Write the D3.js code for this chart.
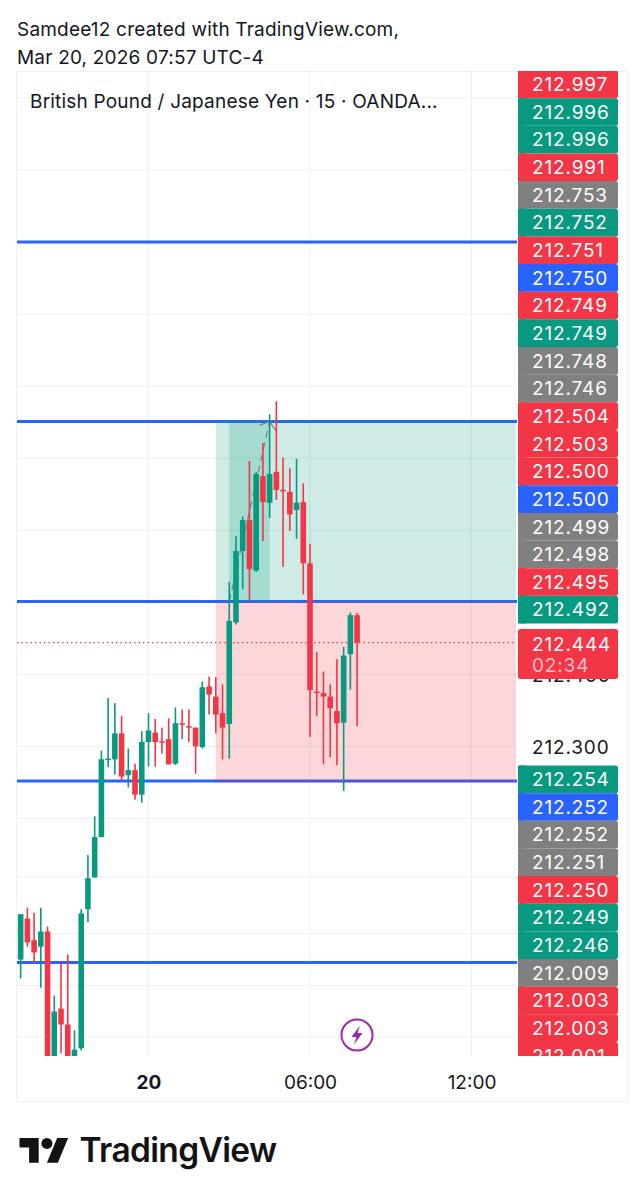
<!DOCTYPE html>
<html>
<head>
<meta charset="utf-8">
<script src="https://cdn.jsdelivr.net/npm/d3@7"></script>
<style>
  html, body { margin: 0; padding: 0; background: #fff; }
  svg { display: block; }
  text { font-family: Inter, "Noto Sans", sans-serif; }
</style>
</head>
<body>
<div id="chart"></div>
<script>
// 15 min candles, first one is 19 bars before the "20" tick
const opens  = [212.004,212.061,212.031,212.022,212.043,211.850,211.936,211.914,211.864,211.881,212.074,212.118,212.174,212.282,212.282,212.318,212.260,212.267,212.233,212.306,212.319,212.307,212.310,212.276,212.332,212.328,212.326,212.299,212.383,212.369,212.346,212.331,212.472,212.571,212.614,212.544,212.675,212.638,212.681,212.656,212.653,212.628,212.639,212.554,212.376,212.374,212.369,212.349,212.333,212.428,212.482];
const highs  = [212.067,212.076,212.069,212.076,212.050,211.954,212.000,212.011,211.906,212.074,212.149,212.203,212.294,212.367,212.360,212.342,212.297,212.276,212.321,212.346,212.338,212.326,212.339,212.354,212.351,212.351,212.326,212.390,212.397,212.396,212.386,212.528,212.592,212.619,212.696,212.681,212.721,212.761,212.779,212.701,212.686,212.699,212.665,212.581,212.431,212.404,212.386,212.421,212.438,212.486,212.485];
const lows   = [211.978,212.022,212.000,211.965,211.836,211.843,211.874,211.857,211.861,211.878,212.056,212.118,212.174,212.271,212.261,212.253,212.243,212.226,212.222,212.272,212.272,212.290,212.275,212.274,212.310,212.306,212.262,212.297,212.344,212.318,212.282,212.283,212.469,212.518,212.503,212.542,212.585,212.617,212.642,212.549,212.599,212.588,212.511,212.313,212.342,212.275,212.285,212.274,212.238,212.379,212.328];
const closes = [212.067,212.028,212.014,212.043,211.843,211.932,211.914,211.861,211.879,212.068,212.117,212.174,212.282,212.283,212.318,212.258,212.267,212.233,212.306,212.322,212.306,212.306,212.275,212.332,212.331,212.326,212.300,212.382,212.372,212.344,212.326,212.474,212.571,212.614,212.546,212.678,212.639,212.678,212.656,212.654,212.622,212.638,212.554,212.378,212.375,212.369,212.353,212.332,212.426,212.482,212.444];

// level lines
const levels = [213, 212.751, 212.501, 212.252, 212];
const gridPrices = [213.2,213.1,213,212.9,212.8,212.7,212.6,212.5,212.4,212.3,212.2,212.119,212.04,211.968,211.897];
const priceTicks = [212.4, 212.3];
const timeTicks = [0, 6, 12];
const timeLabels = ["20", "06:00", "12:00"];

const upperLabels = ["212.997","212.996","212.996","212.991","212.753","212.752","212.751","212.750","212.749","212.749","212.748","212.746","212.504","212.503","212.500","212.500","212.499","212.498","212.495","212.492"];
const upperKinds  = ["r","g","g","r","n","g","r","b","r","g","n","n","r","r","r","b","n","n","r","g"];
const lowerLabels = ["212.254","212.252","212.252","212.251","212.250","212.249","212.246","212.009","212.003","212.003","212.001"];
const lowerKinds  = ["g","b","n","n","r","g","g","n","r","r","r"];
const lastPrice = 212.444;
const countdown = "02:34";

const width = 643, height = 1199;
const GREEN = "#089981", RED = "#f23645", BLUE = "#2962ff", GRAY = "#808080";
const kindColor = { r: RED, g: GREEN, b: BLUE, n: GRAY };

const pane = { left: 17, right: 517, top: 71, bottom: 1056 };

const x = d3.scaleLinear().domain([0, 6]).range([148.5, 310]);
const y = d3.scaleLinear().domain([212, 213]).range([962.5, 242]);
const barHour = i => (i - 19) * 0.25;

const svg = d3.select("#chart").append("svg").attr("width", width).attr("height", height);

svg.append("defs").append("clipPath").attr("id", "paneClip").append("rect")
  .attr("x", pane.left).attr("y", pane.top)
  .attr("width", pane.right - pane.left).attr("height", pane.bottom - pane.top);
svg.select("defs").append("clipPath").attr("id", "labelClip").append("rect")
  .attr("x", pane.right).attr("y", pane.top)
  .attr("width", 120).attr("height", pane.bottom - pane.top);

// header
svg.append("text").attr("x", 17).attr("y", 35.5).attr("font-size", 19).attr("letter-spacing", 0.2).attr("fill", "#131722")
  .text("Samdee12 created with TradingView.com,");
svg.append("text").attr("x", 17).attr("y", 63.5).attr("font-size", 19).attr("letter-spacing", 0.2).attr("fill", "#131722")
  .text("Mar 20, 2026 07:57 UTC-4");

// frame
svg.append("rect").attr("x", 16.5).attr("y", 71.5).attr("width", 611).attr("height", 1030)
  .attr("fill", "none").attr("stroke", "#f0f0f0");

const plot = svg.append("g").attr("clip-path", "url(#paneClip)");

// grid
plot.selectAll(".hgrid").data(gridPrices).join("line")
  .attr("x1", pane.left).attr("x2", pane.right)
  .attr("y1", d => y(d)).attr("y2", d => y(d))
  .attr("stroke", "#eeeff1").attr("stroke-width", 1);
plot.selectAll(".vgrid").data(timeTicks).join("line")
  .attr("x1", d => x(d)).attr("x2", d => x(d))
  .attr("y1", pane.top).attr("y2", pane.bottom)
  .attr("stroke", "#eeeff1").attr("stroke-width", 1);

// horizontal levels
plot.selectAll(".level").data(levels).join("line")
  .attr("x1", pane.left).attr("x2", pane.right)
  .attr("y1", d => y(d)).attr("y2", d => y(d))
  .attr("stroke", BLUE).attr("stroke-width", 3);

// long position box, it covers the level lines at its edges
const boxLeft = x(barHour(29));
plot.append("rect").attr("x", boxLeft).attr("y", y(levels[1]) - 1.5)
  .attr("width", pane.right - 1 - boxLeft).attr("height", y(levels[2]) - y(levels[1]) + 1.5)
  .attr("fill", GREEN).attr("fill-opacity", 0.2);
plot.append("rect").attr("x", boxLeft).attr("y", y(levels[2]))
  .attr("width", pane.right - 1 - boxLeft).attr("height", y(levels[3]) - y(levels[2]) + 1.5)
  .attr("fill", RED).attr("fill-opacity", 0.2);
plot.append("rect").attr("x", x(barHour(31))).attr("y", y(levels[1]))
  .attr("width", x(barHour(37)) - x(barHour(31))).attr("height", y(levels[2]) - y(levels[1]))
  .attr("fill", GREEN).attr("fill-opacity", 0.2);

// dashed arrow of the position
const arrowTip = [x(barHour(37)), y(levels[1])];
plot.append("line").attr("x1", x(barHour(31))).attr("y1", y(levels[2]))
  .attr("x2", arrowTip[0]).attr("y2", arrowTip[1])
  .attr("stroke", "#808080").attr("stroke-width", 1.2).attr("stroke-dasharray", "7,5");
plot.append("path")
  .attr("d", `M${arrowTip[0] - 10},${arrowTip[1] + 4}L${arrowTip[0]},${arrowTip[1]}L${arrowTip[0] + 6},${arrowTip[1] + 9}`)
  .attr("fill", "none").attr("stroke", "#808080").attr("stroke-width", 1.2);

// candles
const candles = opens.map((o, i) => ({ i, o, h: highs[i], l: lows[i], c: closes[i] }));
const candleG = plot.selectAll(".candle").data(candles).join("g")
  .attr("fill", d => d.c >= d.o ? GREEN : RED);
candleG.append("rect")
  .attr("x", d => x(barHour(d.i)) - 0.8).attr("width", 1.6)
  .attr("y", d => y(d.h)).attr("height", d => y(d.l) - y(d.h));
candleG.append("rect")
  .attr("x", d => x(barHour(d.i)) - 2.8).attr("width", 5.6)
  .attr("y", d => y(Math.max(d.o, d.c)))
  .attr("height", d => Math.max(1.5, Math.abs(y(d.o) - y(d.c))));

// last price line
plot.append("line").attr("x1", pane.left).attr("x2", pane.right - 1)
  .attr("y1", y(lastPrice)).attr("y2", y(lastPrice))
  .attr("stroke", RED).attr("stroke-width", 1.2).attr("stroke-dasharray", "1.5,3");

// price axis, most of it sits under the labels
const yAxis = svg.append("g").attr("transform", `translate(${pane.right},0)`)
  .call(d3.axisRight(y).tickValues(priceTicks).tickSize(0).tickPadding(15).tickFormat(d3.format(".3f")));
yAxis.select(".domain").remove();
yAxis.selectAll("text").attr("font-size", 19).attr("fill", "#131722").attr("dy", "0.37em")
  .style("font-family", "Inter").style("letter-spacing", "0.85px");

// stacked labels
const labelH = 27.65;
function drawLabels(texts, kinds, top) {
  const g = svg.append("g").attr("clip-path", "url(#labelClip)");
  const row = d3.scaleBand().domain(d3.range(texts.length))
    .range([top, top + labelH * texts.length]);
  const item = g.selectAll("g").data(texts).join("g")
    .attr("transform", (d, i) => `translate(518,${row(i)})`);
  item.append("rect").attr("width", 100).attr("height", row.bandwidth()).attr("rx", 2.5)
    .attr("fill", (d, i) => kindColor[kinds[i]]);
  item.append("rect").attr("width", 8).attr("height", row.bandwidth())
    .attr("fill", (d, i) => kindColor[kinds[i]]);
  item.append("text").attr("x", 14).attr("y", row.bandwidth() / 2 + 6.8)
    .attr("font-size", 19).attr("letter-spacing", 0.85).attr("fill", "#fff").text(d => d);
}
drawLabels(upperLabels, upperKinds, 70.5);
drawLabels(lowerLabels, lowerKinds, 765.5);

// last price label with countdown
const lastG = svg.append("g").attr("transform", "translate(518,629)");
lastG.append("rect").attr("width", 100).attr("height", 50).attr("rx", 2.5).attr("fill", RED);
lastG.append("text").attr("x", 14).attr("y", 21.5).attr("font-size", 19).attr("letter-spacing", 0.85)
  .attr("fill", "#fff").text(d3.format(".3f")(lastPrice));
lastG.append("text").attr("x", 14).attr("y", 43).attr("font-size", 19).attr("letter-spacing", 0.85)
  .attr("fill", "#fff").attr("fill-opacity", 0.7).text(countdown);

// chart title
svg.append("text").attr("x", 30).attr("y", 107.5).attr("font-size", 19).attr("letter-spacing", 0.2).attr("fill", "#131722")
  .text("British Pound / Japanese Yen · 15 · OANDA...");

// time axis
const xAxis = svg.append("g").attr("transform", `translate(0,${pane.bottom})`)
  .call(d3.axisBottom(x).tickValues(timeTicks).tickSize(0).tickPadding(14)
    .tickFormat((d, i) => timeLabels[i]));
xAxis.select(".domain").remove();
xAxis.selectAll("text").attr("font-size", 19).attr("fill", "#131722").attr("dy", "1.0em")
  .style("font-family", "Inter").attr("font-weight", (d, i) => i === 0 ? 700 : 400);

// lightning marker
const bolt = svg.append("g").attr("transform", "translate(357,1035)");
bolt.append("circle").attr("r", 15.5).attr("fill", "#fff").attr("stroke", "#9c27b0").attr("stroke-width", 2);
bolt.append("path").attr("d", "M3,-9.5L-5.5,2H-0.5L-3,9.5L5.5,-2H0.5Z").attr("fill", "#9c27b0");

// logo
const logo = svg.append("g").attr("transform", "translate(19.5,1132.5) scale(1.37)").attr("fill", "#131313");
logo.append("path").attr("d", "M14 22H7V11H0V4h14v18zM28 22h-8l7.5-18h8L28 22z");
logo.append("circle").attr("cx", 20).attr("cy", 8).attr("r", 4);
svg.append("text").attr("x", 79.5).attr("y", 1162).attr("font-size", 33.5).attr("font-weight", 600)
  .attr("letter-spacing", -0.65).attr("fill", "#131313").text("TradingView");
</script>
</body>
</html>
